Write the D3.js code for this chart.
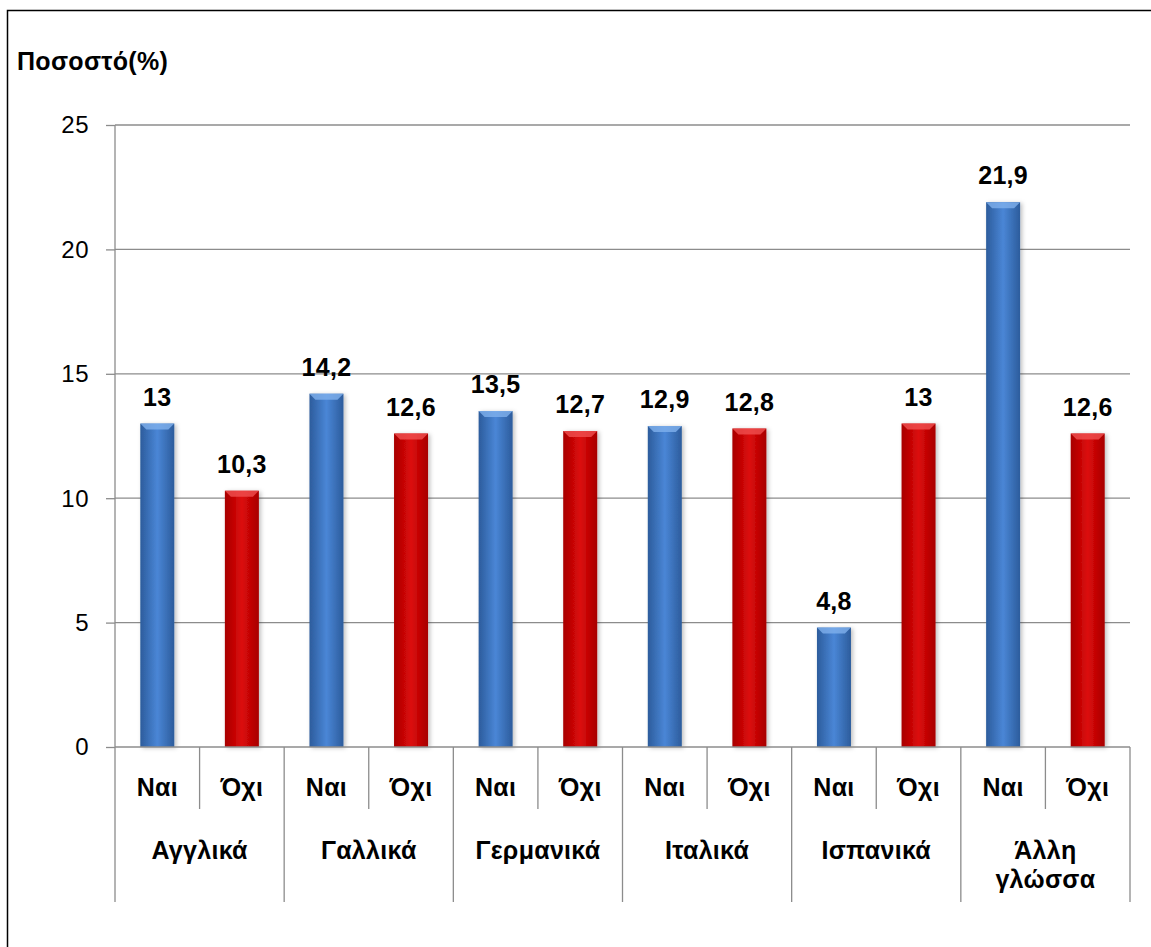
<!DOCTYPE html>
<html><head><meta charset="utf-8">
<script src="https://cdn.jsdelivr.net/npm/d3@7/dist/d3.min.js"></script>
<style>body{margin:0;background:#fff}svg{display:block;font-family:Arial,"Liberation Sans",sans-serif}</style>
</head><body><svg id="c" width="1151" height="947"></svg>
<script>
const groups = ["Αγγλικά","Γαλλικά","Γερμανικά","Ιταλικά","Ισπανικά","Άλλη γλώσσα"];
const subs = ["Ναι","Όχι"];
const valuesYes = [13,14.2,13.5,12.9,4.8,21.9];
const valuesNo = [10.3,12.6,12.7,12.8,13,12.6];
const yTicks = [0,5,10,15,20,25];
const yTitle = "Ποσοστό(%)";

(function(){
const svg = d3.select("#c");
const pl=115, pr=1130, pt=125, pb=747;
const FS=25;
const data=[];
groups.forEach((g,i)=>{data.push({g,s:subs[0],v:valuesYes[i],k:"yes"});data.push({g,s:subs[1],v:valuesNo[i],k:"no"});});
const x = d3.scaleBand().domain(data.map((d,i)=>i)).range([pl,pr]).paddingInner(0).paddingOuter(0);
const y = d3.scaleLinear().domain([0,25]).range([pb,pt]);

const defs=svg.append("defs");
function grad(id,edge,mid){const gr=defs.append("linearGradient").attr("id",id).attr("x1","0").attr("x2","1").attr("y1","0").attr("y2","0");
gr.append("stop").attr("offset","0").attr("stop-color",edge);
gr.append("stop").attr("offset","0.5").attr("stop-color",mid);
gr.append("stop").attr("offset","1").attr("stop-color",edge);}
grad("gb","#2c5c9c","#4a86d6");
grad("gr","#a80000","#dc0a0a");
const f=defs.append("filter").attr("id","sh").attr("x","-30%").attr("y","-10%").attr("width","160%").attr("height","120%");
f.append("feDropShadow").attr("dx",2).attr("dy",1).attr("stdDeviation",2).attr("flood-color","#000").attr("flood-opacity",0.25);

svg.append("path").attr("d","M7.5,960 V10.5 H1160").attr("fill","none").attr("stroke","#000").attr("stroke-width",1.5);

svg.append("g").selectAll("line").data(yTicks.filter(t=>t>0)).join("line")
 .attr("x1",pl).attr("x2",pr).attr("y1",d=>y(d)).attr("y2",d=>y(d)).attr("stroke","#8c8c8c").attr("stroke-width",1.3);

const ya=svg.append("g").attr("transform",`translate(${pl},0)`).call(d3.axisLeft(y).tickValues(yTicks).tickSize(9).tickFormat(d3.format("d")));
ya.select(".domain").attr("stroke","#8c8c8c").attr("stroke-width",1.3).attr("d",`M0,${pt}V${pb}`);
ya.selectAll(".tick line").attr("stroke","#8c8c8c").attr("stroke-width",1.3);
ya.selectAll(".tick text").attr("font-size",24).attr("fill","#000").attr("x",-26).attr("dy","0.33em").attr("letter-spacing",0.5)
  .attr("font-family","Arial,'Liberation Sans',sans-serif");

svg.append("text").attr("x",17).attr("y",70).attr("font-size",FS).attr("font-weight","bold").attr("letter-spacing",0.3).text(yTitle);

const bw=34;
const bars=svg.append("g");
data.forEach((d,i)=>{
 const cx=x(i)+x.bandwidth()/2, x0=cx-bw/2, y0=y(d.v);
 bars.append("rect").attr("x",x0).attr("y",y0).attr("width",bw).attr("height",pb-y0)
  .attr("fill",d.k==="yes"?"url(#gb)":"url(#gr)").attr("filter","url(#sh)");
 bars.append("path").attr("d",`M${x0},${y0}H${x0+bw}L${x0+bw-6},${y0+6}H${x0+6}Z`)
  .attr("fill",d.k==="yes"?"#7fb0ec":"#f05050").attr("opacity",0.8);
 svg.append("text").attr("x",cx).attr("y",y0-18).attr("text-anchor","middle").attr("font-size",FS).attr("font-weight","bold").attr("letter-spacing",0.3)
  .text(String(d.v).replace(".",","));
});

svg.append("line").attr("x1",pl).attr("x2",pr).attr("y1",pb).attr("y2",pb).attr("stroke","#8c8c8c").attr("stroke-width",1.3);
const xa=svg.append("g");
data.forEach((d,i)=>{
 const xs=x(i);
 const isGroup=i%2===0;
 xa.append("line").attr("x1",xs).attr("x2",xs).attr("y1",pb).attr("y2",isGroup?902:809).attr("stroke","#8c8c8c").attr("stroke-width",1.3);
 xa.append("text").attr("x",xs+x.bandwidth()/2).attr("y",796).attr("text-anchor","middle").attr("font-size",FS).attr("font-weight","bold").attr("letter-spacing",0.3).text(d.s);
});
xa.append("line").attr("x1",pr).attr("x2",pr).attr("y1",pb).attr("y2",902).attr("stroke","#8c8c8c").attr("stroke-width",1.3);
groups.forEach((g,j)=>{
 const cx=x(2*j)+x.bandwidth();
 const words=g.split(" ");
 const t=xa.append("text").attr("x",cx).attr("text-anchor","middle").attr("font-size",FS).attr("font-weight","bold").attr("letter-spacing",0.3);
 words.forEach((w,k)=>t.append("tspan").attr("x",cx).attr("y",859+k*29).text(w));
});
})();
</script></body></html>
